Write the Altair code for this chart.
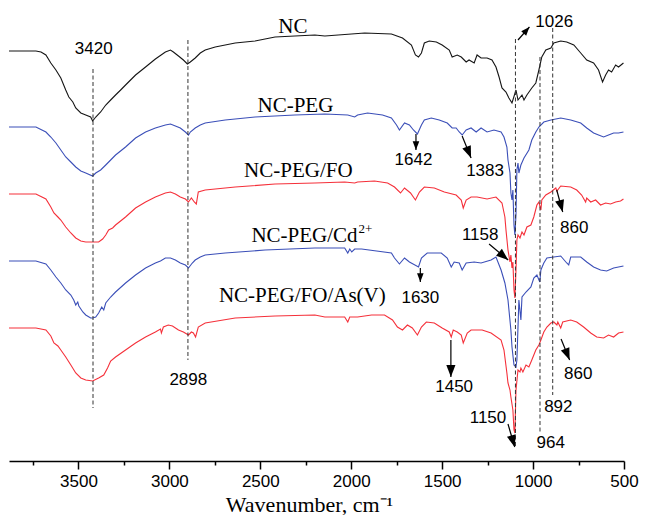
import math
import altair as alt
import pandas as pd

# ---------------- spectra (wavenumber in cm-1, offset transmittance; larger = lower) ----------------
nc_wn = [3882, 3734, 3706, 3679, 3652, 3624, 3597, 3570, 3553, 3531,
         3515, 3487, 3460, 3433, 3422, 3405, 3378, 3350, 3323, 3296,
         3268, 3241, 3186, 3131, 3077, 3022, 2994, 2978, 2950, 2923,
         2901, 2885, 2858, 2830, 2803, 2748, 2638, 2529, 2419, 2310,
         2200, 2145, 1926, 1779, 1718, 1669, 1647, 1630, 1614, 1598,
         1571, 1532, 1500, 1461, 1445, 1417, 1395, 1368, 1352, 1324,
         1308, 1286, 1253, 1226, 1204, 1187, 1171, 1149, 1133, 1116,
         1094, 1083, 1061, 1050, 1034, 1007, 985, 968, 952, 930,
         902, 886, 848, 815, 776, 738, 705, 667, 640, 618,
         601, 585, 568, 546, 530, 503]
nc_t = [51, 51, 52, 55, 63, 70, 78, 90, 97, 102,
        108, 113, 115, 117, 121, 117, 112, 105, 100, 95,
        90, 85, 75, 67, 59, 52, 50, 52, 56, 60,
        64, 62, 58, 53, 50, 47, 43, 41, 37, 36,
        35, 36, 33, 34, 38, 45, 55, 57, 53, 43,
        41, 42, 45, 50, 57, 55, 57, 62, 60, 63,
        55, 58, 58, 60, 67, 77, 88, 92, 98, 103,
        90, 100, 95, 100, 95, 88, 83, 70, 57, 50,
        48, 43, 41, 42, 45, 53, 60, 63, 70, 82,
        75, 70, 72, 65, 67, 63]

peg_wn = [3882, 3734, 3679, 3652, 3624, 3597, 3570, 3542, 3515, 3487,
          3460, 3422, 3405, 3378, 3350, 3323, 3296, 3241, 3186, 3131,
          3077, 3022, 2994, 2967, 2940, 2912, 2895, 2885, 2858, 2830,
          2803, 2693, 2529, 2310, 2145, 2019, 1981, 1965, 1910, 1828,
          1779, 1751, 1735, 1707, 1680, 1658, 1636, 1614, 1598, 1560,
          1516, 1472, 1445, 1423, 1406, 1390, 1368, 1341, 1313, 1286,
          1253, 1215, 1176, 1160, 1144, 1138, 1127, 1122, 1116, 1111,
          1105, 1100, 1094, 1089, 1083, 1078, 1067, 1050, 1023, 1007,
          985, 968, 941, 902, 848, 793, 738, 705, 667, 640,
          612, 585, 557, 530, 503]
peg_t = [127, 127, 132, 137, 143, 150, 157, 162, 167, 171,
         173, 176, 173, 170, 165, 160, 155, 147, 138, 132,
         128, 125, 124, 126, 128, 132, 135, 132, 128, 125,
         123, 120, 117, 115, 114, 115, 117, 115, 113, 115,
         118, 125, 130, 123, 125, 130, 134, 125, 120, 118,
         120, 123, 128, 128, 132, 135, 130, 128, 132, 128,
         132, 130, 132, 137, 147, 160, 173, 193, 200, 190,
         225, 235, 215, 170, 163, 173, 165, 158, 150, 140,
         132, 127, 122, 120, 118, 120, 123, 128, 133, 135,
         137, 135, 133, 133, 132]

fo_wn = [3882, 3734, 3679, 3652, 3635, 3613, 3597, 3570, 3542, 3515,
         3487, 3460, 3422, 3389, 3367, 3350, 3334, 3312, 3296, 3241,
         3186, 3131, 3077, 3022, 2994, 2967, 2940, 2912, 2895, 2879,
         2863, 2852, 2841, 2803, 2638, 2419, 2200, 2036, 1981, 1965,
         1872, 1800, 1762, 1729, 1707, 1674, 1647, 1625, 1598, 1543,
         1488, 1423, 1395, 1384, 1368, 1341, 1308, 1253, 1204, 1171,
         1155, 1149, 1138, 1127, 1122, 1116, 1111, 1105, 1100, 1094,
         1089, 1083, 1072, 1061, 1050, 1034, 1012, 996, 979, 968,
         957, 952, 930, 902, 875, 869, 848, 793, 760, 733,
         711, 705, 683, 656, 629, 601, 574, 546, 519, 503]
fo_t = [194, 194, 199, 207, 213, 217, 220, 227, 233, 238,
        241, 242, 242, 242, 239, 235, 230, 228, 225, 217,
        208, 202, 197, 193, 192, 194, 197, 199, 202, 198,
        202, 204, 192, 190, 187, 184, 183, 182, 183, 182,
        181, 183, 187, 193, 188, 193, 200, 192, 187, 188,
        192, 195, 200, 208, 200, 197, 197, 199, 197, 203,
        217, 230, 250, 262, 255, 268, 262, 290, 298, 270,
        240, 235, 238, 232, 235, 227, 225, 217, 205, 202,
        210, 200, 195, 192, 188, 191, 186, 187, 190, 195,
        202, 198, 202, 200, 205, 203, 204, 202, 201, 199]

cd_wn = [3882, 3734, 3679, 3652, 3624, 3597, 3570, 3542, 3526, 3515,
         3504, 3498, 3476, 3460, 3433, 3422, 3405, 3389, 3372, 3361,
         3350, 3323, 3296, 3241, 3186, 3131, 3077, 3049, 3022, 2994,
         2967, 2940, 2912, 2895, 2874, 2858, 2830, 2803, 2693, 2474,
         2200, 2036, 2019, 2008, 1997, 1981, 1943, 1779, 1762, 1735,
         1707, 1680, 1630, 1614, 1582, 1505, 1472, 1450, 1434, 1406,
         1390, 1368, 1324, 1286, 1231, 1204, 1176, 1155, 1138, 1122,
         1116, 1105, 1094, 1089, 1078, 1067, 1061, 1039, 1012, 996,
         979, 963, 957, 941, 924, 886, 848, 815, 804, 793,
         738, 705, 667, 629, 595, 557, 503]
cd_t = [261, 261, 264, 270, 277, 283, 290, 295, 300, 305,
        302, 306, 312, 315, 318, 318, 317, 313, 307, 310,
        303, 297, 292, 283, 275, 268, 263, 261, 258, 258,
        260, 263, 265, 268, 263, 260, 257, 255, 253, 250,
        248, 248, 253, 249, 252, 249, 249, 253, 258, 264,
        258, 262, 267, 258, 253, 253, 258, 267, 262, 263,
        270, 263, 262, 263, 260, 257, 270, 283, 300, 330,
        347, 365, 367, 360, 300, 320, 297, 292, 287, 278,
        275, 282, 270, 263, 258, 257, 256, 263, 265, 257,
        257, 262, 267, 270, 271, 268, 266]

as_wn = [3882, 3734, 3679, 3652, 3635, 3613, 3597, 3570, 3542, 3515,
         3487, 3460, 3422, 3389, 3361, 3340, 3323, 3296, 3241, 3186,
         3131, 3077, 3049, 3044, 3033, 3006, 2983, 2950, 2923, 2895,
         2879, 2868, 2856, 2841, 2803, 2638, 2419, 2200, 2145, 2036,
         2019, 2008, 1965, 1888, 1817, 1773, 1746, 1718, 1691, 1664,
         1636, 1614, 1587, 1543, 1500, 1461, 1450, 1439, 1417, 1395,
         1384, 1362, 1341, 1308, 1280, 1231, 1176, 1160, 1144, 1138,
         1127, 1122, 1111, 1105, 1100, 1094, 1083, 1072, 1067, 1056,
         1039, 1023, 1007, 985, 968, 957, 941, 924, 902, 886,
         869, 864, 848, 837, 793, 760, 722, 683, 650, 612,
         585, 557, 530, 503]
as_t = [328, 328, 330, 336, 343, 346, 350, 357, 365, 373,
        378, 380, 381, 378, 375, 368, 361, 357, 350, 343,
        337, 332, 329, 333, 327, 325, 326, 330, 332, 335,
        332, 333, 337, 327, 323, 318, 316, 315, 317, 317,
        322, 317, 317, 315, 315, 320, 327, 330, 325, 328,
        335, 327, 322, 323, 328, 332, 337, 330, 332, 335,
        343, 333, 330, 330, 330, 333, 340, 350, 373, 383,
        390, 397, 410, 430, 433, 390, 370, 372, 368, 372,
        365, 367, 360, 350, 345, 340, 332, 327, 323, 322,
        325, 322, 328, 322, 320, 322, 327, 333, 337, 338,
        335, 337, 333, 332]

series_names = ["NC", "NC-PEG", "NC-PEG/FO", "NC-PEG/Cd2+", "NC-PEG/FO/As(V)"]
series_colors = ["#151515", "#3b4fb8", "#f5303a", "#3b4fb8", "#f5303a"]

# ---------------- annotations ----------------
vline_wn = [3420, 2898, 1097, 962, 892]
vline_top = [69, 40, 39, 57, 28]
vline_bottom = [408, 360, 448, 432, 395]

peak_text = ["3420", "2898", "1642", "1383", "1026", "860", "1158", "1630", "1450", "1150", "892", "964", "860"]
peak_wn = [3416, 2896, 1658, 1264, 884, 774, 1291, 1620, 1434, 1248, 861, 903, 752]
peak_t = [49, 380, 160, 171, 22, 228, 235, 298, 387, 418, 407, 443, 374]

arrow_wn_from = [1644, 1390, 1083, 870, 1242, 1620, 1452, 1138, 846]
arrow_t_from = [134, 136, 40, 190, 244, 268, 340, 424, 339]
arrow_wn_to = [1644, 1341, 1020, 837, 1137, 1620, 1452, 1101, 799]
arrow_t_to = [150, 158, 27, 212, 260, 282, 377, 447, 360]

label_text = ["NC", "NC-PEG", "NC-PEG/FO", "NC-PEG/FO/As(V)"]
label_wn = [2321, 2307, 2291, 2269]
label_t = [33, 112, 177, 302]
cd_label_wn = 1965
cd_label_t = 242

major_ticks = [3500, 3000, 2500, 2000, 1500, 1000, 500]
minor_ticks = [3750, 3250, 2750, 2250, 1750, 1250, 750]

# ---------------- build ----------------
W, H = 615, 453
X_DOMAIN = [500, 3882]
Y_DOMAIN = [8, 461]

frames = []
for name, wn, t in zip(series_names, [nc_wn, peg_wn, fo_wn, cd_wn, as_wn],
                       [nc_t, peg_t, fo_t, cd_t, as_t]):
    frames.append(pd.DataFrame({"series": name, "wn": wn, "t": t}))
spectra = pd.concat(frames, ignore_index=True)

xs = alt.Scale(domain=X_DOMAIN, reverse=True, nice=False, zero=False)
ys = alt.Scale(domain=Y_DOMAIN, reverse=True, nice=False, zero=False)

major_axis = alt.Axis(values=major_ticks, format="d", grid=False,
                      tickSize=8, tickWidth=1.5, tickColor="black",
                      domainWidth=1.5, domainColor="black",
                      labelFont="Liberation Sans", labelFontSize=17, labelColor="black",
                      labelPadding=17, labelBaseline="alphabetic",
                      labelFlush=False, labelOverlap=False,
                      title="Wavenumber, cm⁻¹", titleFont="Liberation Serif",
                      titleFontSize=22, titleFontWeight="normal", titleColor="black",
                      titleX=300, titleY=50, titleBaseline="alphabetic", titleAlign="center",
                      orient="bottom")
minor_axis = alt.Axis(values=minor_ticks, grid=False, labels=False, domain=False,
                      tickSize=4, tickWidth=1.5, tickColor="black", title=None,
                      orient="bottom")

lines = alt.Chart(spectra).mark_line(strokeWidth=1.1).encode(
    x=alt.X("wn:Q", scale=xs, axis=major_axis),
    y=alt.Y("t:Q", scale=ys, axis=None),
    color=alt.Color("series:N", scale=alt.Scale(domain=series_names, range=series_colors), legend=None),
    detail="series:N",
)

minor = alt.Chart(pd.DataFrame({"wn": minor_ticks})).mark_point(opacity=0).encode(
    x=alt.X("wn:Q", scale=xs, axis=minor_axis),
)

vl_df = pd.DataFrame({"wn": vline_wn, "top": vline_top, "bottom": vline_bottom})
vlines = alt.Chart(vl_df).mark_rule(strokeDash=[4, 2.5], color="#333333", strokeWidth=1).encode(
    x=alt.X("wn:Q", scale=xs, axis=None),
    y=alt.Y("top:Q", scale=ys, axis=None),
    y2="bottom:Q",
)

pk_df = pd.DataFrame({"txt": peak_text, "wn": peak_wn, "t": peak_t})
peaks = alt.Chart(pk_df).mark_text(font="Liberation Sans", fontSize=17, color="black",
                                   align="center", baseline="middle").encode(
    x=alt.X("wn:Q", scale=xs, axis=None),
    y=alt.Y("t:Q", scale=ys, axis=None),
    text="txt:N",
)

# arrow geometry: head angle from the on-screen direction of each arrow
px_per_x = W / (X_DOMAIN[1] - X_DOMAIN[0])
px_per_y = H / (Y_DOMAIN[1] - Y_DOMAIN[0])
angles, heads = [], []
for a, b, c, d in zip(arrow_wn_from, arrow_t_from, arrow_wn_to, arrow_t_to):
    dx = -(c - a) * px_per_x
    dy = (d - b) * px_per_y
    angles.append(math.degrees(math.atan2(-dx, dy)) % 360)
    heads.append(576 if math.hypot(dx, dy) > 18 else 300)
ar_df = pd.DataFrame({"x1": arrow_wn_from, "y1": arrow_t_from, "x2": arrow_wn_to,
                      "y2": arrow_t_to, "ang": angles, "hs": heads})
arrow_lines = alt.Chart(ar_df).mark_rule(color="black", strokeWidth=1.2).encode(
    x=alt.X("x1:Q", scale=xs, axis=None), x2="x2:Q",
    y=alt.Y("y1:Q", scale=ys, axis=None), y2="y2:Q",
)
HEAD = "M0,0L-0.38,-1L0.38,-1Z"
arrow_heads = alt.Chart(ar_df).mark_point(shape=HEAD, filled=True, color="black",
                                          opacity=1, strokeWidth=0).encode(
    x=alt.X("x2:Q", scale=xs, axis=None),
    y=alt.Y("y2:Q", scale=ys, axis=None),
    angle=alt.Angle("ang:Q", scale=None),
    size=alt.Size("hs:Q", scale=None),
)

lb_df = pd.DataFrame({"txt": label_text, "wn": label_wn, "t": label_t})
labels = alt.Chart(lb_df).mark_text(font="Liberation Serif", fontSize=21, color="black",
                                    align="center", baseline="alphabetic").encode(
    x=alt.X("wn:Q", scale=xs, axis=None),
    y=alt.Y("t:Q", scale=ys, axis=None),
    text="txt:N",
)
cd_df = pd.DataFrame({"txt": ["NC-PEG/Cd"], "wn": [cd_label_wn], "t": [cd_label_t]})
cd_label = alt.Chart(cd_df).mark_text(font="Liberation Serif", fontSize=21, color="black",
                                      align="right", baseline="alphabetic").encode(
    x=alt.X("wn:Q", scale=xs, axis=None),
    y=alt.Y("t:Q", scale=ys, axis=None),
    text="txt:N",
)
cd_sup = alt.Chart(cd_df).mark_text(font="Liberation Serif", fontSize=13, color="black",
                                    align="left", baseline="alphabetic", dx=1, dy=-9).encode(
    x=alt.X("wn:Q", scale=xs, axis=None),
    y=alt.Y("t:Q", scale=ys, axis=None),
    text=alt.value("2+"),
)

chart = alt.layer(
    lines, minor, vlines, arrow_lines, arrow_heads, peaks, labels, cd_label, cd_sup
).resolve_axis(x="independent").properties(
    width=W, height=H, autosize="none",
    padding={"left": 1, "top": 0, "right": 15, "bottom": 54},
    background="white",
).configure_view(stroke=None)

chart.save("out.html", embed_options={"renderer": "svg", "actions": False})
